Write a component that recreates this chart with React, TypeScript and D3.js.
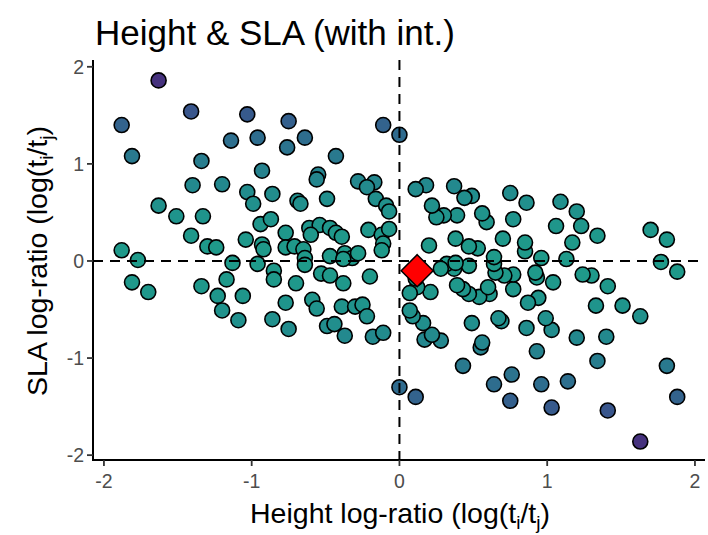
import React from "react";
import * as d3 from "d3";

// pairwise log-ratios, first the i/j half then the j/i half
const heightLogRatio = [
  -1.63, -1.41, -1.88, -1.03, -1.14, -1.81, -1.34, -1.4, -1.2, -1.03,
  -0.99, -1.63, -1.51, -1.33, -1.41, -1.3, -1.24, -1.04, -1.88, -1.77,
  -1.13, -0.75, -0.96, -0.76, -0.64, -0.11, 0.0, -0.43, -0.93, -0.55,
  -0.56, -0.28, -0.17, -0.22, -0.86, -0.69, -0.67, -0.49, -0.16, -0.09,
  -0.07, -0.94, -0.87, -0.77, -0.61, -0.54, -0.47, -0.43, -0.39, -0.6,
  -0.21, -0.12, -0.07, -0.11, -0.12, -0.93, -0.92, -0.77, -0.71, -0.65,
  -0.64, -0.64, -0.47, -0.37, -0.32, -0.28, -0.38, -0.96, -0.85, -0.85,
  -1.81, -1.7, -1.34, -1.17, -1.23, -1.06, -1.2, -1.09, -0.7, -0.53,
  -0.47, -0.38, -0.2, -0.77, -0.59, -0.56, -0.39, -0.3, -0.25, -0.22,
  -0.86, -0.75, -0.49, -0.44, -0.37, -0.18, -0.11,
  1.63, 1.41, 1.88, 1.03, 1.14, 1.81, 1.34, 1.4, 1.2, 1.03,
  0.99, 1.63, 1.51, 1.33, 1.41, 1.3, 1.24, 1.04, 1.88, 1.77,
  1.13, 0.75, 0.96, 0.76, 0.64, 0.11, 0.0, 0.43, 0.93, 0.55,
  0.56, 0.28, 0.17, 0.22, 0.86, 0.69, 0.67, 0.49, 0.16, 0.09,
  0.07, 0.94, 0.87, 0.77, 0.61, 0.54, 0.47, 0.43, 0.39, 0.6,
  0.21, 0.12, 0.07, 0.11, 0.12, 0.93, 0.92, 0.77, 0.71, 0.65,
  0.64, 0.64, 0.47, 0.37, 0.32, 0.28, 0.38, 0.96, 0.85, 0.85,
  1.81, 1.7, 1.34, 1.17, 1.23, 1.06, 1.2, 1.09, 0.7, 0.53,
  0.47, 0.38, 0.2, 0.77, 0.59, 0.56, 0.39, 0.3, 0.25, 0.22,
  0.86, 0.75, 0.49, 0.44, 0.37, 0.18, 0.11,
];

const slaLogRatio = [
  1.86, 1.54, 1.4, 1.51, 1.24, 1.08, 1.03, 0.78, 0.79, 0.71,
  0.59, 0.57, 0.46, 0.46, 0.26, 0.15, 0.14, 0.22, 0.11, 0.01,
  -0.02, 1.44, 1.27, 1.17, 1.27, 1.4, 1.3, 1.08, 0.93, 0.89,
  0.84, 0.82, 0.81, 0.76, 0.69, 0.62, 0.59, 0.64, 0.64, 0.57,
  0.51, 0.38, 0.43, 0.29, 0.34, 0.37, 0.34, 0.29, 0.25, 0.27,
  0.32, 0.27, 0.33, 0.18, 0.11, 0.17, 0.12, 0.14, 0.15, 0.12,
  0.03, -0.04, 0.05, 0.08, 0.03, 0.08, 0.02, -0.03, -0.1, -0.19,
  -0.22, -0.32, -0.26, -0.19, -0.36, -0.36, -0.51, -0.61, -0.23, -0.13,
  -0.15, -0.23, -0.16, -0.43, -0.4, -0.49, -0.47, -0.47, -0.45, -0.57,
  -0.6, -0.7, -0.67, -0.65, -0.77, -0.78, -0.74,
  -1.86, -1.54, -1.4, -1.51, -1.24, -1.08, -1.03, -0.78, -0.79, -0.71,
  -0.59, -0.57, -0.46, -0.46, -0.26, -0.15, -0.14, -0.22, -0.11, -0.01,
  0.02, -1.44, -1.27, -1.17, -1.27, -1.4, -1.3, -1.08, -0.93, -0.89,
  -0.84, -0.82, -0.81, -0.76, -0.69, -0.62, -0.59, -0.64, -0.64, -0.57,
  -0.51, -0.38, -0.43, -0.29, -0.34, -0.37, -0.34, -0.29, -0.25, -0.27,
  -0.32, -0.27, -0.33, -0.18, -0.11, -0.17, -0.12, -0.14, -0.15, -0.12,
  -0.03, 0.04, -0.05, -0.08, -0.03, -0.08, -0.02, 0.03, 0.1, 0.19,
  0.22, 0.32, 0.26, 0.19, 0.36, 0.36, 0.51, 0.61, 0.23, 0.13,
  0.15, 0.23, 0.16, 0.43, 0.4, 0.49, 0.47, 0.47, 0.45, 0.57,
  0.6, 0.7, 0.67, 0.65, 0.77, 0.78, 0.74,
];

// interaction estimate (red diamond)
const intHeight = 0.12;
const intSla = -0.1;

const xTicks = [-2, -1, 0, 1, 2];
const yTicks = [-2, -1, 0, 1, 2];

const W = 708;
const H = 535;
const font = "'Liberation Sans', Arial, Helvetica, sans-serif";

export default function App() {
  const left = 93, right = 705, top = 60, bottom = 460;

  const x = d3.scaleLinear().domain([-2.074, 2.068]).range([left, right]);
  const y = d3.scaleLinear().domain([-2.05, 2.07]).range([bottom, top]);

  const color = (v) => d3.interpolateViridis(0.54 - 0.115 * v * v);

  const pts = heightLogRatio.map((h, i) => ({ h, s: slaLogRatio[i] }));
  const ds = 16;
  const cx = x(intHeight), cy = y(intSla);

  return (
    <svg
      width={W}
      height={H}
      style={{ position: "absolute", left: 0, top: 0, background: "#fff" }}
      fontFamily={font}
    >
      <text x={95} y={45} fontSize={35} fill="#000">
        Height &amp; SLA (with int.)
      </text>

      <g>
        {pts.map((p, i) => (
          <circle
            key={i}
            cx={x(p.h)}
            cy={y(p.s)}
            r={7.5}
            fill={color(p.s)}
            stroke="#000"
            strokeWidth={1.6}
          />
        ))}
      </g>

      <line x1={x(0)} x2={x(0)} y1={top} y2={bottom} stroke="#000" strokeWidth={2} strokeDasharray="10,7" />
      <line x1={left} x2={right} y1={y(0)} y2={y(0)} stroke="#000" strokeWidth={2} strokeDasharray="10,7" />

      <path
        d={`M${cx},${cy - ds} L${cx + ds},${cy} L${cx},${cy + ds} L${cx - ds},${cy} Z`}
        fill="#ff0000"
        stroke="#000"
        strokeWidth={1.5}
      />

      {/* axes */}
      <line x1={left} x2={left} y1={top} y2={bottom + 1} stroke="#000" strokeWidth={2} />
      <line x1={left - 1} x2={right} y1={bottom} y2={bottom} stroke="#000" strokeWidth={2} />

      {xTicks.map((t) => (
        <g key={"x" + t}>
          <line x1={x(t)} x2={x(t)} y1={bottom} y2={bottom + 6} stroke="#333" strokeWidth={1.8} />
          <text x={x(t)} y={488} fontSize={19.5} fill="#4d4d4d" textAnchor="middle">
            {t < 0 ? "-" + Math.abs(t) : t}
          </text>
        </g>
      ))}
      {yTicks.map((t) => (
        <g key={"y" + t}>
          <line x1={left - 6} x2={left} y1={y(t)} y2={y(t)} stroke="#333" strokeWidth={1.8} />
          <text x={84} y={y(t) + 7} fontSize={19.5} fill="#4d4d4d" textAnchor="end">
            {t < 0 ? "-" + Math.abs(t) : t}
          </text>
        </g>
      ))}

      <text x={400} y={523} fontSize={28.5} fill="#000" textAnchor="middle">
        Height log-ratio (log(t
        <tspan fontSize={19} dy={6}>i</tspan>
        <tspan dy={-6}>/t</tspan>
        <tspan fontSize={19} dy={6}>j</tspan>
        <tspan dy={-6}>)</tspan>
      </text>

      <text transform={`translate(47,${y(0)}) rotate(-90)`} fontSize={28.5} fill="#000" textAnchor="middle">
        SLA log-ratio (log(t
        <tspan fontSize={19} dy={6}>i</tspan>
        <tspan dy={-6}>/t</tspan>
        <tspan fontSize={19} dy={6}>j</tspan>
        <tspan dy={-6}>)</tspan>
      </text>
    </svg>
  );
}
